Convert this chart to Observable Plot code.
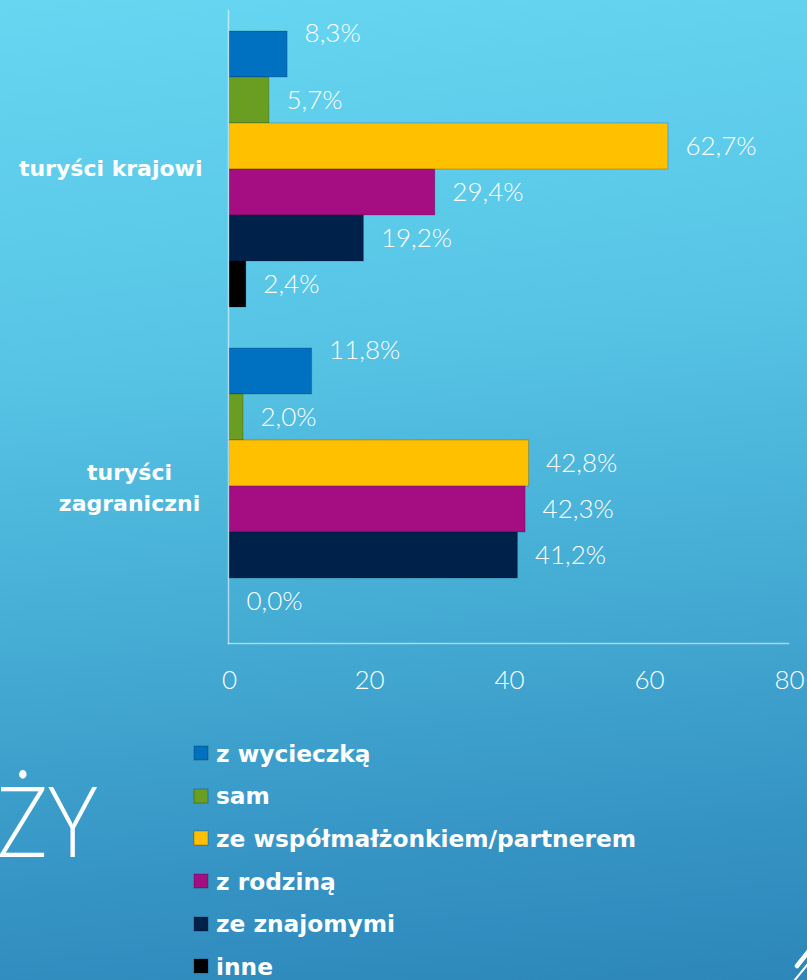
<!DOCTYPE html>
<html>
<head>
<meta charset="utf-8">
<script src="https://cdn.jsdelivr.net/npm/d3@7"></script>
<script src="https://cdn.jsdelivr.net/npm/@observablehq/plot@0.6"></script>
<style>
  html, body { margin: 0; padding: 0; }
  body {
    width: 807px; height: 980px; position: relative; overflow: hidden;
    background: linear-gradient(174deg, #66d6f1 0%, #57c4e5 35%, #42a8d1 65%, #3593c4 85%, #2d87b9 100%);
  }
  #chart { position: absolute; left: 0; top: 0; }
  #legend { position: absolute; left: 194px; top: 732px; }
  #legend .lg-swatch { height: 42.6px; padding-bottom: 0; }
  #legend .lg-swatch svg { margin-right: 8px; }
  #legend .lg-swatch rect { stroke: rgba(0,0,0,0.25); stroke-width: 1; }
  #deco { position: absolute; left: 0; top: 0; pointer-events: none; }
</style>
</head>
<body>
<div id="chart"></div>
<div id="legend"></div>
<svg id="deco" width="807" height="980">
  <text x="-3" y="857" fill="white" font-family="Lato" font-weight="300" font-size="98" textLength="101" lengthAdjust="spacingAndGlyphs">ŻY</text>
  <line x1="797" y1="966" x2="812" y2="947" stroke="white" stroke-width="4.5" stroke-linecap="round"/>
  <line x1="794" y1="981" x2="812" y2="959" stroke="white" stroke-width="2" stroke-linecap="round"/>
</svg>
<script>
const categories = ["turyści krajowi", "turyści zagraniczni"];
const series = ["z wycieczką", "sam", "ze współmałżonkiem/partnerem", "z rodziną", "ze znajomymi", "inne"];
const krajowi = [8.3, 5.7, 62.7, 29.4, 19.2, 2.4];
const zagraniczni = [11.8, 2.0, 42.8, 42.3, 41.2, 0.0];
const colors = ["#0070c0", "#6a9e22", "#ffc000", "#a50e82", "#00214a", "#000000"];
const xTicks = [0, 20, 40, 60, 80];

const valuesByCategory = [krajowi, zagraniczni];
const data = categories.flatMap((c, ci) =>
  series.map((s, si) => ({category: c, series: s, value: valuesByCategory[ci][si]}))
);
const fmt = v => d3.format(".1f")(v).replace(".", ",") + "%";
const catLabel = c => c === categories[1] ? "turyści\nzagraniczni" : c;
const axisLine = "rgba(255,255,255,0.55)";

const chart = Plot.plot({
  width: 807,
  height: 700,
  marginLeft: 229,
  marginRight: 18,
  marginTop: 10,
  marginBottom: 55,
  style: {background: "transparent", color: "white", fontFamily: "Lato", fontWeight: 300, fontSize: "26px"},
  x: {domain: [0, 80], axis: null},
  fy: {domain: categories, paddingInner: 0.113, paddingOuter: 0.055, axis: null, label: null},
  y: {domain: series, padding: 0, axis: null},
  color: {domain: series, range: colors},
  marks: [
    Plot.barX(data, {fy: "category", y: "series", x: "value", fill: "series",
      stroke: "black", strokeOpacity: 0.2, strokeWidth: 1}),
    Plot.text(data.filter(d => d.series !== series[0]), {fy: "category", y: "series", x: "value",
      text: d => fmt(d.value), dx: 17, textAnchor: "start", fill: "white", fontSize: 26, fontWeight: 300}),
    Plot.text(data.filter(d => d.series === series[0]), {fy: "category", y: "series", x: "value",
      text: d => fmt(d.value), dx: 17, dy: -21, textAnchor: "start", fill: "white", fontSize: 26, fontWeight: 300}),
    Plot.text([categories[0]], {fy: d => d, text: catLabel, frameAnchor: "left", dx: -27,
      textAnchor: "end", fill: "white", fontFamily: "DejaVu Sans", fontWeight: "bold", fontSize: 22}),
    Plot.text([categories[1]], {fy: d => d, text: catLabel, frameAnchor: "left", dx: -100,
      textAnchor: "middle", lineHeight: 1.4, fill: "white", fontFamily: "DejaVu Sans", fontWeight: "bold", fontSize: 22}),
    Plot.axisX({ticks: xTicks, tickSize: 0, tickPadding: 44, tickFormat: d => String(d), label: null,
      fill: "white", fontSize: 26, fontWeight: 300}),
    Plot.frame({anchor: "left", facet: "super", stroke: axisLine, strokeWidth: 1.5, insetTop: -18, insetBottom: -17, insetLeft: -1}),
    Plot.frame({anchor: "bottom", facet: "super", stroke: axisLine, strokeWidth: 1.5, insetBottom: -17, insetLeft: -1, insetRight: 1})
  ]
});
document.getElementById("chart").appendChild(chart);

const legend = Plot.legend({
  color: {domain: series, range: colors},
  legend: "swatches",
  columns: 1,
  swatchSize: 14,
  className: "lg",
  style: {fontFamily: "DejaVu Sans", fontSize: "23.3px", fontWeight: "bold", color: "white", background: "transparent", margin: 0}
});
document.getElementById("legend").appendChild(legend);
</script>
</body>
</html>
